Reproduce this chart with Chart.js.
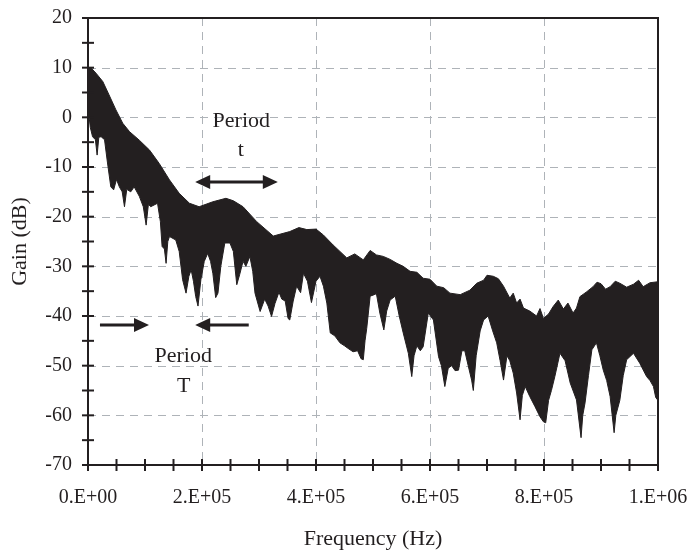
<!DOCTYPE html>
<html>
<head>
<meta charset="utf-8">
<script src="https://cdn.jsdelivr.net/npm/chart.js@4.4.1/dist/chart.umd.min.js"></script>
<style>
  html, body { margin: 0; padding: 0; background: #ffffff; }
  #wrap { width: 691px; height: 552px; position: relative; }
</style>
</head>
<body>
<div id="wrap"><canvas id="c" width="691" height="552"></canvas></div>
<script>
// ---------- data ----------
// upper envelope of the gain spectrum (frequency in Hz, gain in dB)
const upperFreq = [0, 5e3, 14e3, 26e3, 37e3, 49e3, 61e3, 73e3, 90e3, 108e3,
  125e3, 143e3, 160e3, 178e3, 195e3, 219e3, 242e3, 255e3, 272e3, 296e3,
  325e3, 354e3, 370e3, 384e3, 400e3, 413e3, 430e3, 454e3, 468e3, 483e3, 495e3, 506e3, 518e3, 530e3, 542e3,
  553e3, 565e3, 577e3, 588e3, 600e3, 612e3, 624e3, 635e3, 653e3, 670e3, 682e3, 694e3, 700e3, 711e3, 720e3, 729e3, 740e3,
  746e3, 752e3, 758e3, 764e3, 775e3, 787e3, 793e3, 799e3, 808e3, 816e3, 825e3, 834e3, 842e3, 851e3, 857e3, 863e3, 874e3,
  886e3, 893e3, 900e3, 908e3, 916e3, 925e3, 933e3, 945e3, 957e3, 966e3, 974e3, 986e3, 1000e3];
const upperGain = [10, 10, 8.9, 7.2, 4.5, 1.5, -1.2, -2.9, -4.6, -6.6,
  -9.3, -12.6, -15.3, -17.3, -18, -17, -16.3, -16.8, -18, -21,
  -23.9, -23, -22.2, -22.6, -22.5, -23.7, -25.7, -28.3, -27.5, -28.7, -26.8, -27.7, -28, -28.6, -29.4,
  -30, -31, -31.2, -32.4, -32.6, -34, -34.3, -35.4, -35.7, -34.8, -33.4, -32.8, -31.8, -32, -32.5, -34, -36.4,
  -35.4, -37.4, -36.6, -38.4, -39, -40, -38.5, -40.5, -39.6, -38.1, -36.8, -38.6, -37.4, -39.4, -38.4, -36.1, -35.2,
  -34.1, -33.2, -33.5, -34.6, -34.1, -33, -33.4, -34.2, -33.6, -32.8, -34.1, -33.3, -33.1];

// lower envelope (dips of the noisy spectrum)
const lowerFreq = [0, 4e3, 8e3, 13e3, 16e3, 19e3, 23e3, 29e3, 34e3, 40e3,
  45e3, 50e3, 55e3, 60e3, 64e3, 68e3, 75e3, 81e3, 90e3, 97e3,
  102e3, 106e3, 110e3, 122e3, 127e3, 130e3, 134e3, 137e3, 140e3, 143e3,
  154e3, 160e3, 166e3, 172e3, 177e3, 181e3, 185e3, 189e3, 193e3, 198e3,
  204e3, 210e3, 215e3, 219e3, 224e3, 228e3, 233e3, 240e3, 249e3, 255e3,
  261e3, 266e3, 272e3, 277e3, 284e3, 289e3, 293e3, 302e3, 310e3, 316e3,
  322e3, 328e3, 335e3, 340e3, 346e3, 351e3, 354e3, 360e3, 366e3, 373e3,
  378e3, 385e3, 392e3, 400e3, 407e3, 413e3, 419e3, 425e3, 433e3, 442e3,
  450e3, 456e3, 465e3, 473e3, 479e3, 483e3, 486e3, 489e3, 495e3, 500e3,
  506e3, 512e3, 519e3, 524e3, 530e3, 539e3, 546e3, 553e3, 562e3, 568e3,
  572e3, 577e3, 583e3, 588e3, 597e3, 606e3, 615e3, 620e3, 626e3, 632e3,
  638e3, 644e3, 650e3, 656e3, 661e3, 667e3, 673e3, 676e3, 681e3, 688e3,
  694e3, 702e3, 710e3, 717e3, 723e3, 729e3, 735e3, 740e3, 746e3, 752e3,
  758e3, 762e3, 767e3, 775e3, 784e3, 793e3, 799e3, 803e3, 808e3, 813e3,
  819e3, 828e3, 837e3, 846e3, 857e3, 865e3, 868e3, 872e3, 878e3, 884e3,
  892e3, 898e3, 904e3, 910e3, 916e3, 923e3, 926e3, 933e3, 939e3, 945e3,
  957e3, 968e3, 980e3, 986e3, 992e3, 996e3, 1000e3];
const lowerGain = [2, -2, -3.9, -4.5, -7.6, -4, -3.9, -4.5, -9, -14,
  -14.6, -12.5, -14, -15, -18, -14.5, -15, -14, -15.9, -18,
  -21.7, -17.5, -18, -17.3, -21, -26, -26.5, -29.4, -25, -24,
  -24.7, -27, -32.7, -35.4, -32, -30.7, -33, -36.1, -38, -32.7,
  -29, -27.4, -29, -31.4, -36.3, -35.4, -30, -25.3, -25.3, -27,
  -33.7, -31.7, -29, -30, -28, -31, -35.4, -39.1, -36.6, -38,
  -40.1, -37.5, -35.2, -36.6, -37, -40.5, -40.8, -37, -34, -35.3,
  -31.4, -33, -37.3, -33, -32, -34, -37.4, -43.4, -44, -45.4,
  -46, -46.5, -47.2, -47, -48.6, -48.8, -45, -42.5, -36, -35.8,
  -35.5, -39.4, -42.8, -39, -36.8, -36, -40, -43.4, -47.5, -52.2,
  -48, -46, -47, -46.2, -39.4, -40.8, -48.2, -50, -54.2, -50.5,
  -50, -51, -50.9, -47, -47, -50, -52.9, -55, -48, -43,
  -40.8, -40, -43, -45.4, -49, -52.9, -48, -49, -51.5, -55.5,
  -60.9, -56, -54.2, -56.2, -58.2, -60.3, -61.3, -61.5, -57, -55,
  -52.2, -47.5, -49, -53.5, -56.9, -64.5, -60, -57.5, -52, -46.8,
  -45.4, -48, -50.9, -53, -56.2, -63.5, -60, -57, -52, -48.8,
  -47.5, -49.5, -52.2, -53, -54.2, -56.4, -57];

// axis ticks
const xTickValues = [0, 2e5, 4e5, 6e5, 8e5, 1e6];
const xTickLabels = ['0.E+00', '2.E+05', '4.E+05', '6.E+05', '8.E+05', '1.E+06'];
const yTickValues = [20, 10, 0, -10, -20, -30, -40, -50, -60, -70];
const yTickLabels = ['20', '10', '0', '-10', '-20', '-30', '-40', '-50', '-60', '-70'];
const xGridValues = [2e5, 4e5, 6e5, 8e5];
const yGridValues = [10, 0, -10, -20, -30, -40, -50, -60];

// annotations (text and arrows in data coordinates)
const annoTexts = [
  { text: 'Period', x: 2.69e5, y: -0.7 },
  { text: 't', x: 2.68e5, y: -6.6 },
  { text: 'Period', x: 1.67e5, y: -48 },
  { text: 'T', x: 1.68e5, y: -54.1 }
];
const annoArrows = [
  { x1: 1.88e5, x2: 3.33e5, y: -13, both: true },
  { x1: 0.21e5, x2: 1.07e5, y: -41.8, both: false },
  { x1: 2.82e5, x2: 1.88e5, y: -41.8, both: false }
];

// ---------- chart ----------
const INK = '#231f20';
const FONT = '"Liberation Serif", "Times New Roman", serif';

function pts(xs, ys) { return xs.map((x, i) => ({ x: x, y: ys[i] })); }

const decor = {
  id: 'decor',
  beforeDatasetsDraw(chart) {
    const { ctx, chartArea: a, scales: { x, y } } = chart;
    ctx.save();
    ctx.strokeStyle = '#aeb3b8';
    ctx.lineWidth = 1;
    ctx.setLineDash([8, 6]);
    yGridValues.forEach(v => {
      const py = Math.round(y.getPixelForValue(v)) + 0.5;
      ctx.beginPath(); ctx.moveTo(a.left, py); ctx.lineTo(a.right, py); ctx.stroke();
    });
    xGridValues.forEach(v => {
      const px = Math.round(x.getPixelForValue(v)) + 0.5;
      ctx.beginPath(); ctx.moveTo(px, a.top); ctx.lineTo(px, a.bottom); ctx.stroke();
    });
    ctx.restore();
  },
  afterDatasetsDraw(chart) {
    const { ctx, chartArea: a, scales: { x, y } } = chart;
    ctx.save();
    ctx.strokeStyle = INK;
    ctx.lineWidth = 2;
    ctx.setLineDash([]);
    ctx.strokeRect(a.left, a.top, a.right - a.left, a.bottom - a.top);
    // tick marks crossing the axes
    y.ticks.forEach(t => {
      const py = y.getPixelForValue(t.value);
      ctx.beginPath(); ctx.moveTo(a.left - 6, py); ctx.lineTo(a.left + 6, py); ctx.stroke();
    });
    x.ticks.forEach(t => {
      const px = x.getPixelForValue(t.value);
      ctx.beginPath(); ctx.moveTo(px, a.bottom - 6); ctx.lineTo(px, a.bottom + 6); ctx.stroke();
    });
    // annotation text
    ctx.fillStyle = INK;
    ctx.font = '22px ' + FONT;
    ctx.textAlign = 'center';
    ctx.textBaseline = 'middle';
    annoTexts.forEach(t => {
      ctx.fillText(t.text, x.getPixelForValue(t.x), y.getPixelForValue(t.y));
    });
    // arrows
    const head = (tx, ty, dir) => {
      ctx.beginPath();
      ctx.moveTo(tx, ty);
      ctx.lineTo(tx - dir * 15, ty - 7);
      ctx.lineTo(tx - dir * 15, ty + 7);
      ctx.closePath();
      ctx.fill();
    };
    ctx.lineWidth = 3;
    annoArrows.forEach(ar => {
      const p1 = x.getPixelForValue(ar.x1), p2 = x.getPixelForValue(ar.x2);
      const py = y.getPixelForValue(ar.y);
      const dir = p2 > p1 ? 1 : -1;
      const s = ar.both ? p1 + dir * 10 : p1;
      ctx.beginPath(); ctx.moveTo(s, py); ctx.lineTo(p2 - dir * 10, py); ctx.stroke();
      head(p2, py, dir);
      if (ar.both) head(p1, py, -dir);
    });
    ctx.restore();
  }
};

function zeroPad(s) { s.paddingTop = 0; s.paddingBottom = 0; s.paddingLeft = 0; s.paddingRight = 0; }

new Chart(document.getElementById('c'), {
  type: 'line',
  data: {
    datasets: [
      {
        data: pts(upperFreq, upperGain),
        borderColor: INK, backgroundColor: INK, borderWidth: 1,
        pointRadius: 0, tension: 0, fill: '+1'
      },
      {
        data: pts(lowerFreq, lowerGain),
        borderColor: INK, backgroundColor: INK, borderWidth: 1,
        pointRadius: 0, tension: 0, fill: false
      }
    ]
  },
  options: {
    responsive: false,
    animation: false,
    events: [],
    layout: { padding: { left: 0, right: 33, top: 18, bottom: 0 } },
    plugins: { legend: { display: false }, tooltip: { enabled: false } },
    scales: {
      x: {
        type: 'linear', min: 0, max: 1e6,
        grid: { display: false, drawTicks: false },
        border: { display: false },
        ticks: {
          stepSize: 5e4, autoSkip: false, maxRotation: 0, padding: 21,
          color: INK, font: { family: FONT, size: 20 },
          callback: v => { const i = xTickValues.indexOf(v); return i >= 0 ? xTickLabels[i] : ''; }
        },
        title: {
          display: true, text: 'Frequency (Hz)', color: INK,
          font: { family: FONT, size: 22 }, padding: { top: 0, bottom: 0 }
        },
        afterFit: s => { s.height = 87; zeroPad(s); }
      },
      y: {
        type: 'linear', min: -70, max: 20,
        grid: { display: false, drawTicks: false },
        border: { display: false },
        ticks: {
          stepSize: 5, autoSkip: false, padding: 16,
          color: INK, font: { family: FONT, size: 20 },
          callback: v => { const i = yTickValues.indexOf(v); return i >= 0 ? yTickLabels[i] : ''; }
        },
        title: {
          display: true, text: 'Gain (dB)', color: INK,
          font: { family: FONT, size: 22 }, padding: { top: 7, bottom: 0 }
        },
        afterFit: s => { s.width = 88; zeroPad(s); }
      }
    }
  },
  plugins: [decor]
});
</script>
</body>
</html>
